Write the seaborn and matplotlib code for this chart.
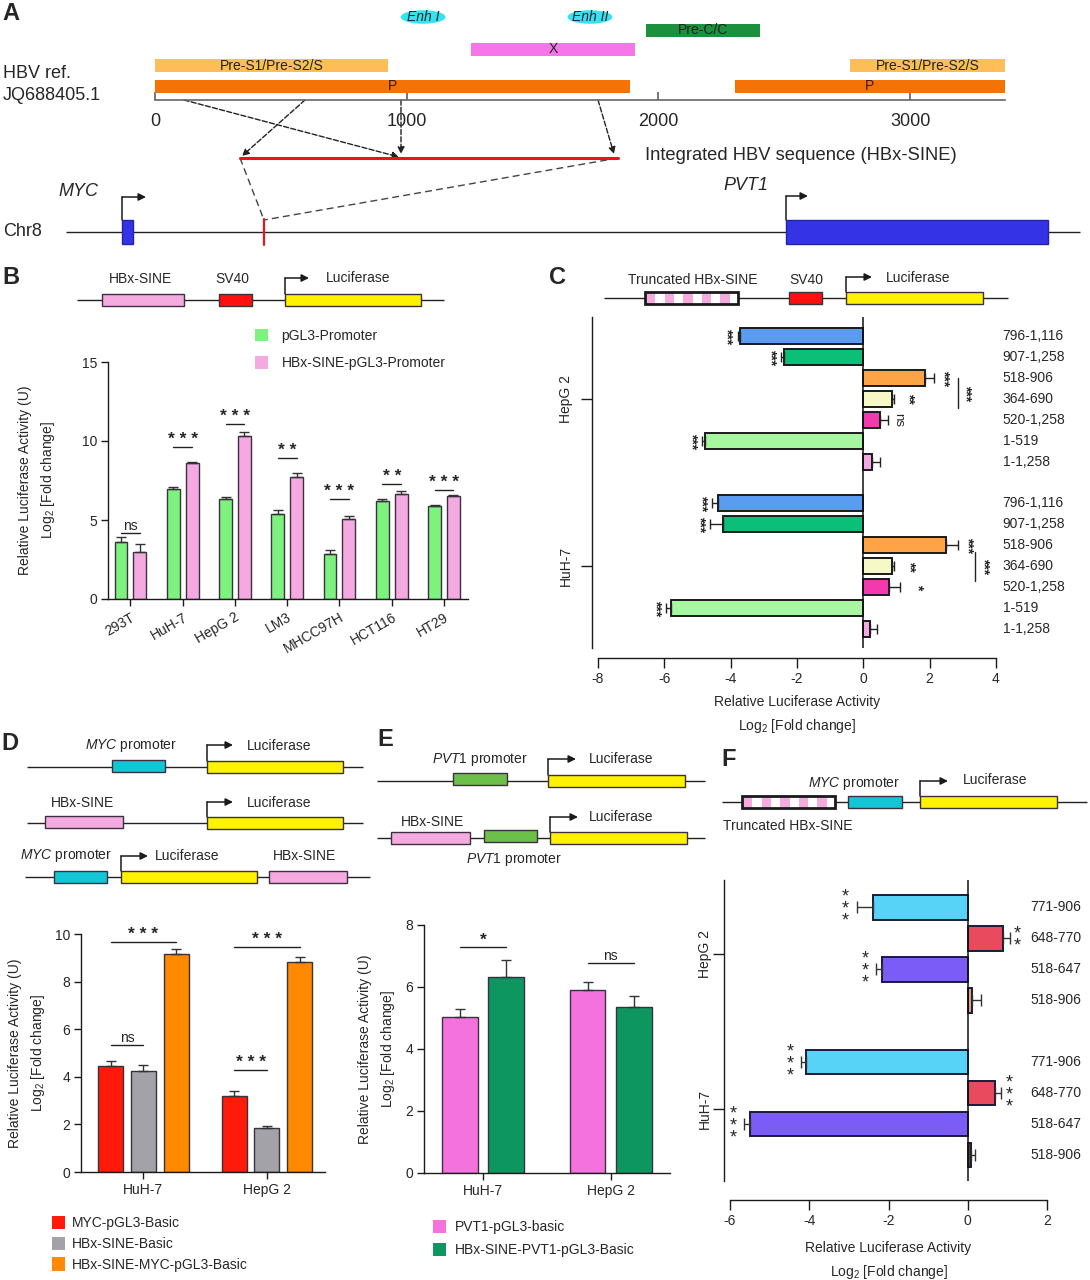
import numpy as np
import pandas as pd
import matplotlib
matplotlib.use("Agg")
import matplotlib.pyplot as plt
import seaborn as sns
from matplotlib.patches import Rectangle, Ellipse, Patch
from matplotlib.container import BarContainer

# ---------------------------------------------------------------- data
# Panel A: HBV genome annotation (bp on JQ688405.1)
a_feat_names = ["Pre-S1/Pre-S2/S", "Pre-S1/Pre-S2/S", "P", "P", "X", "Pre-C/C"]
a_feat_start = [0, 2760, 0, 2304, 1255, 1950]
a_feat_end = [925, 3377, 1887, 3377, 1907, 2404]
a_enh_names = ["Enh I", "Enh II"]
a_enh_pos = [1065, 1728]
a_ticks = [0, 1000, 2000, 3000]

# Panel B
b_cells = ["293T", "HuH-7", "HepG 2", "LM3", "MHCC97H", "HCT116", "HT29"]
b_groups = ["pGL3-Promoter", "HBx-SINE-pGL3-Promoter"]
b_ctrl = [3.6, 6.95, 6.3, 5.4, 2.85, 6.18, 5.88]
b_ctrl_err = [0.33, 0.15, 0.14, 0.26, 0.25, 0.15, 0.1]
b_sine = [3.0, 8.62, 10.3, 7.72, 5.04, 6.62, 6.53]
b_sine_err = [0.46, 0.05, 0.26, 0.28, 0.22, 0.22, 0.06]
b_sig = ["ns", "***", "***", "**", "***", "**", "***"]
b_sig_y = [4.2, 9.6, 11.05, 8.9, 6.3, 7.3, 6.9]

# Panel C
c_fragments = ["796-1,116", "907-1,258", "518-906", "364-690", "520-1,258", "1-519", "1-1,258"]
c_hepg2 = [-3.71, -2.40, 1.87, 0.87, 0.50, -4.78, 0.25]
c_hepg2_err = [0.08, 0.08, 0.25, 0.05, 0.24, 0.09, 0.24]
c_huh7 = [-4.37, -4.22, 2.48, 0.85, 0.76, -5.80, 0.21]
c_huh7_err = [0.18, 0.39, 0.36, 0.08, 0.34, 0.15, 0.19]
c_hepg2_sig = ["***", "***", "***", "**", "ns", "***", ""]
c_huh7_sig = ["***", "***", "***", "**", "*", "***", ""]

# Panel D
d_cells = ["HuH-7", "HepG 2"]
d_groups = ["MYC-pGL3-Basic", "HBx-SINE-Basic", "HBx-SINE-MYC-pGL3-Basic"]
d_myc = [4.45, 3.2]
d_myc_err = [0.2, 0.2]
d_sine = [4.23, 1.84]
d_sine_err = [0.25, 0.11]
d_combo = [9.15, 8.82]
d_combo_err = [0.22, 0.21]

# Panel E
e_cells = ["HuH-7", "HepG 2"]
e_groups = ["PVT1-pGL3-basic", "HBx-SINE-PVT1-pGL3-Basic"]
e_pvt1 = [5.02, 5.89]
e_pvt1_err = [0.28, 0.28]
e_sine = [6.33, 5.37]
e_sine_err = [0.55, 0.35]
e_sig = ["*", "ns"]
e_sig_y = [7.28, 6.76]

# Panel F
f_fragments = ["771-906", "648-770", "518-647", "518-906"]
f_hepg2 = [-2.40, 0.89, -2.17, 0.11]
f_hepg2_err = [0.40, 0.17, 0.14, 0.23]
f_huh7 = [-4.09, 0.68, -5.49, 0.07]
f_huh7_err = [0.11, 0.16, 0.15, 0.12]
f_hepg2_sig = ["***", "**", "***", ""]
f_huh7_sig = ["***", "***", "***", ""]

# ---------------------------------------------------------------- style
sns.set_theme(style="ticks")
plt.rcParams["font.family"] = ["Liberation Sans", "DejaVu Sans"]
plt.rcParams["mathtext.fontset"] = "custom"
plt.rcParams["mathtext.rm"] = "Liberation Sans"
plt.rcParams["mathtext.it"] = "Liberation Sans:italic"
plt.rcParams["axes.linewidth"] = 1.0
plt.rcParams["axes.unicode_minus"] = False
FS = 10
EDGE = "#3a3040"
PINK = "#F5AAE0"
YELLOW = "#FFF200"
CYAN = "#12C6D6"
PGREEN = "#6CC04A"

W, H = 1090, 1280
fig = plt.figure(figsize=(W / 100, H / 100), dpi=100)


def add_ax(x0, y0, x1, y1):
    return fig.add_axes([x0 / W, 1 - y1 / H, (x1 - x0) / W, (y1 - y0) / H])


ov = add_ax(0, 0, W, H)
ov.set_xlim(0, W)
ov.set_ylim(H, 0)
ov.axis("off")


def box(ax, x0, x1, yc, h, fc, ec=EDGE, lw=1.0, z=3):
    ax.add_patch(Rectangle((x0, yc - h / 2), x1 - x0, h, facecolor=fc,
                           edgecolor=ec, lw=lw, zorder=z, clip_on=False))


def hline(x0, x1, y, color="#222", lw=1.0):
    ov.plot([x0, x1], [y, y], color=color, lw=lw, zorder=2, solid_capstyle="butt")


def tss(x, ybot, ytop, length):
    ov.plot([x, x], [ybot, ytop], color="k", lw=1.1, zorder=4)
    ov.annotate("", xy=(x + length, ytop), xytext=(x, ytop),
                arrowprops=dict(arrowstyle="-|>", color="k", lw=1.1, shrinkA=0,
                                shrinkB=0, mutation_scale=11))


def striped(x0, x1, yc, h, n=5):
    box(ov, x0, x1, yc, h, "white", ec="none")
    per = (x1 - x0) / n
    for i in range(n):
        ov.add_patch(Rectangle((x0 + i * per + 1, yc - h / 2), per * 0.5, h,
                               fc=PINK, ec="none", zorder=3))
    ov.add_patch(Rectangle((x0, yc - h / 2), x1 - x0, h, fill=False, ec="#1a1a1a",
                           lw=2.0, zorder=4))


def txt(x, y, s, size=FS, **kw):
    kw.setdefault("ha", "center")
    kw.setdefault("va", "center")
    ov.text(x, y, s, fontsize=size, **kw)


def letter(x, y, s):
    ov.text(x, y, s, fontsize=17, fontweight="bold", ha="left", va="center")


def style_bar_axes(ax):
    sns.despine(ax=ax)
    ax.set_facecolor("none")
    ax.tick_params(axis="both", labelsize=FS, length=5, width=1, color="k", pad=3)
    for s in ["left", "bottom"]:
        ax.spines[s].set_color("k")


def bar_conts(ax):
    return [c for c in ax.containers if isinstance(c, BarContainer)]


def up_errors(ax, errs_by_level):
    for cont, errs in zip(bar_conts(ax), errs_by_level):
        for bar, e in zip(cont, errs):
            x = bar.get_x() + bar.get_width() / 2
            h = bar.get_height()
            ax.errorbar(x, h, yerr=[[0], [e]], fmt="none", ecolor="#333",
                        elinewidth=1, capsize=3.5, capthick=1, zorder=5)


def bar_centers(ax):
    out = []
    for cont in bar_conts(ax):
        out.append([b.get_x() + b.get_width() / 2 for b in cont])
    return out


def sig_mark(ax, x1, x2, y, s):
    ax.plot([x1, x2], [y, y], color="#222", lw=1)
    if s == "ns":
        ax.text((x1 + x2) / 2, y, "ns", ha="center", va="bottom", fontsize=FS)
    else:
        ax.text((x1 + x2) / 2, y, " ".join(list(s)), ha="center", va="bottom",
                fontsize=12.5, fontweight="bold")


# ---------------------------------------------------------------- Panel A
letter(2, 13, "A")
txt(3, 73, "HBV ref.", size=13, ha="left")
txt(3, 96, "JQ688405.1", size=13, ha="left")

axA = add_ax(155, 0, 1005, 100)
axA.set_xlim(0, 3377)
axA.set_ylim(100, 0)
axA.set_facecolor("none")
for s in ["top", "left", "right"]:
    axA.spines[s].set_visible(False)
axA.spines["bottom"].set_color("#666")
axA.spines["bottom"].set_linewidth(1.2)
axA.set_yticks([])
axA.set_xticks(a_ticks)
axA.set_xticklabels([str(t) for t in a_ticks], fontsize=13)
axA.tick_params(axis="x", direction="in", length=6, color="#666", pad=9)
feat_style = {"Pre-S1/Pre-S2/S": ("#FDBE57", 65.5), "P": ("#F57207", 86),
              "X": ("#F676EA", 49), "Pre-C/C": ("#1C903C", 30.5)}
for name, s0, s1 in zip(a_feat_names, a_feat_start, a_feat_end):
    col, yc = feat_style[name]
    axA.add_patch(Rectangle((s0, yc - 6.5), s1 - s0, 13, fc=col, ec="none",
                            clip_on=False, zorder=2))
    axA.text((s0 + s1) / 2, yc, name, ha="center", va="center", fontsize=10,
             color="#222" if name != "P" else "#3a1a00")
for name, pos in zip(a_enh_names, a_enh_pos):
    axA.add_patch(Ellipse((pos, 17), 178, 13.5, fc="#33E3F2", ec="none",
                          clip_on=False, zorder=2))
    axA.text(pos, 17, name, ha="center", va="center", fontsize=10, style="italic")

# integration schematic
dash = dict(color="#444", lw=1.0, ls=(0, (5, 3)))
arrowkw = dict(arrowstyle="-|>", color="#222", lw=1.0, ls="--",
               shrinkA=0, shrinkB=0, mutation_scale=10)
for (xs, ys, xe, ye) in [(184, 100, 399, 157), (305, 100, 242, 156),
                         (401, 100, 401, 154), (598, 100, 614, 154)]:
    ov.annotate("", xy=(xe, ye), xytext=(xs, ys), arrowprops=arrowkw)
ov.plot([240, 618], [158, 158], color="#E8141C", lw=2.2, zorder=3)
txt(645, 155, "Integrated HBV sequence (HBx-SINE)", size=13.2, ha="left")
ov.plot([240, 264], [158, 220], **dash)
ov.plot([618, 264], [158, 220], **dash)
hline(66, 1080, 232)
txt(3, 232, "Chr8", size=13, ha="left")
ov.plot([264, 264], [219, 245], color="#E8141C", lw=1.6, zorder=3)
box(ov, 122, 133, 232, 24, "#3434E6", ec="#2222AA")
box(ov, 786, 1048, 232, 24, "#3434E6", ec="#2222AA")
tss(122, 220, 197, 24)
tss(786, 220, 196, 22)
txt(78, 191, "MYC", size=13, style="italic")
txt(746, 186, "PVT1", size=13, style="italic")

# ---------------------------------------------------------------- Panel B
letter(2, 277, "B")
hline(77, 444, 300)
box(ov, 102, 184, 300, 12, PINK)
box(ov, 219, 252, 300, 12, "#FF1010")
box(ov, 285, 421, 300, 12, YELLOW)
tss(285, 294, 278, 24)
txt(140, 279, "HBx-SINE")
txt(232, 279, "SV40")
txt(358, 278, "Luciferase")

dfB = pd.DataFrame({
    "cell": b_cells * 2,
    "group": [b_groups[0]] * len(b_cells) + [b_groups[1]] * len(b_cells),
    "value": b_ctrl + b_sine,
})
b_pal = {b_groups[0]: "#7EF27E", b_groups[1]: "#F5A9E1"}
axB = add_ax(108, 362, 468, 599)
sns.barplot(data=dfB, x="cell", y="value", hue="group", order=b_cells,
            hue_order=b_groups, palette=b_pal, width=0.72, gap=0.32,
            errorbar=None, edgecolor=EDGE, linewidth=1, saturation=1,
            legend=False, ax=axB)
cB = bar_centers(axB)
up_errors(axB, [b_ctrl_err, b_sine_err])
for i in range(len(b_cells)):
    sig_mark(axB, cB[0][i], cB[1][i], b_sig_y[i], b_sig[i])
axB.set_ylim(0, 15)
axB.set_yticks([0, 5, 10, 15])
axB.set_xlim(-0.43, 6.46)
axB.set_xlabel("")
axB.set_ylabel("Relative Luciferase Activity (U)\nLog$_2$ [Fold change]",
               fontsize=FS, linespacing=1.5)
axB.yaxis.set_label_coords(-0.142, 0.5)
style_bar_axes(axB)
plt.setp(axB.get_xticklabels(), rotation=30, ha="right", rotation_mode="anchor")
axB.legend(handles=[Patch(fc=b_pal[g], ec="none") for g in b_groups],
           labels=b_groups, loc="upper left", bbox_to_anchor=(255 / W, 1 - 329 / H),
           bbox_transform=fig.transFigure, frameon=False, fontsize=FS,
           handlelength=0.95, handleheight=1.0, handletextpad=0.95, labelspacing=0.95,
           borderaxespad=0, borderpad=0)

# ---------------------------------------------------------------- Panel C
letter(549, 278, "C")
hline(604, 1008, 298)
striped(645, 738, 298, 12)
box(ov, 789, 822, 298, 12, "#FF1010")
box(ov, 846, 983, 298, 12, YELLOW)
tss(846, 292, 277, 26)
txt(693, 280, "Truncated HBx-SINE")
txt(806, 280, "SV40")
txt(918, 278, "Luciferase")

c_colors = ["#5B9CF2", "#0BBF78", "#FFA347", "#F6F9C6", "#F23AAE", "#A7F6A0", "#F2A9E2"]
c_rows = (["HepG 2|" + f for f in c_fragments] + ["gap"] +
          ["HuH-7|" + f for f in c_fragments])
dfC = pd.DataFrame({
    "row": ["HepG 2|" + f for f in c_fragments] + ["HuH-7|" + f for f in c_fragments],
    "value": c_hepg2 + c_huh7,
})
c_pal = {}
for i, f in enumerate(c_fragments):
    c_pal["HepG 2|" + f] = c_colors[i]
    c_pal["HuH-7|" + f] = c_colors[i]
axC = add_ax(598, 317, 996, 648)
sns.barplot(data=dfC, x="value", y="row", hue="row", order=c_rows,
            hue_order=list(dfC["row"]), palette=c_pal, orient="h", width=0.76,
            dodge=False, errorbar=None, edgecolor="#1a1a1a", linewidth=1.4,
            saturation=1, legend=False, ax=axC)
c_err = dict(zip(dfC["row"], c_hepg2_err + c_huh7_err))
c_sig = dict(zip(dfC["row"], c_hepg2_sig + c_huh7_sig))
c_val = dict(zip(dfC["row"], c_hepg2 + c_huh7))
for p in list(axC.patches):
    if not np.isfinite(p.get_width()) or p.get_width() == 0:
        continue
    yc = p.get_y() + p.get_height() / 2
    key = c_rows[int(round(yc))]
    v, e = c_val[key], c_err[key]
    xe = [[e], [0]] if v < 0 else [[0], [e]]
    axC.errorbar(v, yc, xerr=xe, fmt="none", ecolor="#222", elinewidth=1,
                 capsize=3.5, capthick=1, zorder=5)
    s = c_sig[key]
    if s:
        xs = v - e - 0.32 if v < 0 else v + e + 0.3
        if key == "HuH-7|520-1,258":
            xs = 1.62
        if key.endswith("364-690"):
            xs = v + e + 0.45
        axC.text(xs, yc, s, rotation=-90, ha="center", va="center",
                 fontsize=10 if s != "ns" else 9.5,
                 fontweight="bold" if s != "ns" else "normal")
    axC.text(4.2, yc, key.split("|")[1], ha="left", va="center", fontsize=FS,
             clip_on=False)
# brackets between 518-906 and 364-690
for (xb, y0, y1, xt) in [(2.84, 2.0, 3.45, 3.07), (3.36, 10.3, 11.7, 3.62)]:
    axC.plot([xb, xb], [y0, y1], color="#222", lw=1)
    axC.text(xt, (y0 + y1) / 2, "***", rotation=-90, ha="center", va="center",
             fontsize=10, fontweight="bold")
axC.axvline(0, color="#111", lw=1.1, zorder=4)
axC.set_xlim(-8, 4)
axC.set_ylim(14.91, -0.91)
axC.set_xticks(range(-8, 5, 2))
axC.set_yticks([3, 11])
axC.set_yticklabels(["HepG 2", "HuH-7"])
axC.set_ylabel("")
axC.set_xlabel("Relative Luciferase Activity\nLog$_2$ [Fold change]", fontsize=FS,
               linespacing=1.6, labelpad=7)
style_bar_axes(axC)
axC.spines["left"].set_position(("outward", 4))
axC.spines["bottom"].set_position(("outward", 7))
axC.tick_params(axis="x", length=7)
axC.tick_params(axis="y", length=8, pad=6, labelrotation=90)
plt.setp(axC.get_yticklabels(), va="center")

# ---------------------------------------------------------------- Panel D
letter(1, 743, "D")
# row 1
hline(27, 363, 767)
box(ov, 112, 165, 766, 12, CYAN)
box(ov, 207, 343, 767, 12, YELLOW)
tss(207, 761, 745, 26)
txt(131, 746, r"$\mathit{MYC}$ promoter")
txt(279, 746, "Luciferase")
# row 2
hline(27, 363, 823)
box(ov, 45, 123, 822, 12, PINK)
box(ov, 207, 343, 823, 12, YELLOW)
tss(207, 817, 802, 26)
txt(83, 803, "HBx-SINE")
txt(279, 803, "Luciferase")
# row 3
hline(25, 370, 877)
box(ov, 54, 107, 877, 12, CYAN)
box(ov, 121, 257, 877, 12, YELLOW)
box(ov, 269, 347, 877, 12, PINK)
tss(121, 871, 856, 27)
txt(66, 856, r"$\mathit{MYC}$ promoter")
txt(187, 856, "Luciferase")
txt(304, 856, "HBx-SINE")

dfD = pd.DataFrame({
    "cell": d_cells * 3,
    "group": sum([[g] * 2 for g in d_groups], []),
    "value": d_myc + d_sine + d_combo,
})
d_pal = dict(zip(d_groups, ["#FF1A0A", "#A2A2A8", "#FF8A00"]))
axD = add_ax(81, 934, 325, 1172)
sns.barplot(data=dfD, x="cell", y="value", hue="group", order=d_cells,
            hue_order=d_groups, palette=d_pal, width=0.795, gap=0.235,
            errorbar=None, edgecolor=EDGE, linewidth=1, saturation=1,
            legend=False, ax=axD)
cD = bar_centers(axD)
up_errors(axD, [d_myc_err, d_sine_err, d_combo_err])
sig_mark(axD, cD[0][0], cD[1][0], 5.35, "ns")
sig_mark(axD, cD[0][0], cD[2][0], 9.67, "***")
sig_mark(axD, cD[0][1], cD[2][1], 9.46, "***")
sig_mark(axD, cD[0][1], cD[1][1], 4.27, "***")
axD.set_ylim(0, 10)
axD.set_yticks(range(0, 11, 2))
axD.set_xlim(-0.505, 1.47)
axD.set_xlabel("")
axD.set_ylabel("Relative Luciferase Activity (U)\nLog$_2$ [Fold change]",
               fontsize=FS, linespacing=1.5)
axD.yaxis.set_label_coords(-0.14, 0.5)
style_bar_axes(axD)
axD.legend(handles=[Patch(fc=d_pal[g], ec="none") for g in d_groups],
           labels=d_groups, loc="upper left", bbox_to_anchor=(52 / W, 1 - 1216 / H),
           bbox_transform=fig.transFigure, frameon=False, fontsize=FS,
           handlelength=0.95, handleheight=1.1, handletextpad=0.5, labelspacing=0.45,
           borderaxespad=0, borderpad=0)

# ---------------------------------------------------------------- Panel E
letter(377, 739, "E")
hline(377, 705, 781)
box(ov, 453, 507, 779, 12, PGREEN)
box(ov, 548, 685, 781, 12, YELLOW)
tss(548, 775, 759, 28)
txt(480, 760, r"$\mathit{PVT1}$ promoter")
txt(621, 759, "Luciferase")
hline(377, 705, 838)
box(ov, 391, 470, 838, 12, PINK)
box(ov, 484, 537, 836, 12, PGREEN)
box(ov, 550, 687, 838, 12, YELLOW)
tss(550, 832, 817, 28)
txt(432, 822, "HBx-SINE")
txt(621, 817, "Luciferase")
txt(514, 859, r"$\mathit{PVT1}$ promoter")

dfE = pd.DataFrame({
    "cell": e_cells * 2,
    "group": [e_groups[0]] * 2 + [e_groups[1]] * 2,
    "value": e_pvt1 + e_sine,
})
e_pal = dict(zip(e_groups, ["#F472DE", "#0E9660"]))
axE = add_ax(424, 925, 670, 1173)
sns.barplot(data=dfE, x="cell", y="value", hue="group", order=e_cells,
            hue_order=e_groups, palette=e_pal, width=0.725, gap=0.233,
            errorbar=None, edgecolor=EDGE, linewidth=1, saturation=1,
            legend=False, ax=axE)
cE = bar_centers(axE)
up_errors(axE, [e_pvt1_err, e_sine_err])
for i in range(2):
    sig_mark(axE, cE[0][i], cE[1][i], e_sig_y[i], e_sig[i])
axE.set_ylim(0, 8)
axE.set_yticks(range(0, 9, 2))
axE.set_xlim(-0.463, 1.465)
axE.set_xlabel("")
axE.set_ylabel("Relative Luciferase Activity (U)\nLog$_2$ [Fold change]",
               fontsize=FS, linespacing=1.5)
axE.yaxis.set_label_coords(-0.11, 0.5)
style_bar_axes(axE)
axE.legend(handles=[Patch(fc=e_pal[g], ec="none") for g in e_groups],
           labels=e_groups, loc="upper left", bbox_to_anchor=(433 / W, 1 - 1220 / H),
           bbox_transform=fig.transFigure, frameon=False, fontsize=FS,
           handlelength=0.95, handleheight=1.1, handletextpad=0.6, labelspacing=0.6,
           borderaxespad=0, borderpad=0)

# ---------------------------------------------------------------- Panel F
letter(721, 759, "F")
hline(722, 1087, 802)
striped(742, 835, 802, 12)
box(ov, 848, 902, 802, 12, CYAN)
box(ov, 920, 1057, 802, 12, YELLOW)
tss(920, 796, 781, 28)
txt(854, 783, r"$\mathit{MYC}$ promoter")
txt(995, 780, "Luciferase")
txt(788, 826, "Truncated HBx-SINE")

f_colors_hep = ["#56D3F7", "#EA4A5D", "#7C5CF6", "#E5A274"]
f_colors_huh = ["#56D3F7", "#EA4A5D", "#7C5CF6", "#5B4526"]
f_rows = (["HepG 2|" + f for f in f_fragments] + ["gap"] +
          ["HuH-7|" + f for f in f_fragments])
dfF = pd.DataFrame({
    "row": ["HepG 2|" + f for f in f_fragments] + ["HuH-7|" + f for f in f_fragments],
    "value": f_hepg2 + f_huh7,
})
f_pal = {}
for i, f in enumerate(f_fragments):
    f_pal["HepG 2|" + f] = f_colors_hep[i]
    f_pal["HuH-7|" + f] = f_colors_huh[i]
axF = add_ax(730, 880, 1047, 1181)
sns.barplot(data=dfF, x="value", y="row", hue="row", order=f_rows,
            hue_order=list(dfF["row"]), palette=f_pal, orient="h", width=0.8,
            dodge=False, errorbar=None, edgecolor="#1a1a3a", linewidth=1.4,
            saturation=1, legend=False, ax=axF)
f_err = dict(zip(dfF["row"], f_hepg2_err + f_huh7_err))
f_sig = dict(zip(dfF["row"], f_hepg2_sig + f_huh7_sig))
f_val = dict(zip(dfF["row"], f_hepg2 + f_huh7))
for p in list(axF.patches):
    if not np.isfinite(p.get_width()) or p.get_width() == 0:
        continue
    yc = p.get_y() + p.get_height() / 2
    key = f_rows[int(round(yc))]
    v, e = f_val[key], f_err[key]
    xe = [[e], [0]] if v < 0 else [[0], [e]]
    axF.errorbar(v, yc, xerr=xe, fmt="none", ecolor="#333", elinewidth=1,
                 capsize=4, capthick=1, zorder=5)
    s = f_sig[key]
    if s:
        xs = v - e - 0.28 if v < 0 else v + e + 0.2
        axF.text(xs, yc + 0.05, "\n".join(list(s)), ha="center", va="center",
                 fontsize=13, linespacing=0.62)
    axF.text(1.58, yc, key.split("|")[1], ha="left", va="center", fontsize=FS,
             clip_on=False)
axF.axvline(0, color="#111", lw=1.1, zorder=4)
axF.set_xlim(-6, 2)
axF.set_ylim(8.84, -0.88)
axF.set_xticks(range(-6, 3, 2))
axF.set_yticks([1.5, 6.5])
axF.set_yticklabels(["HepG 2", "HuH-7"])
axF.set_ylabel("")
axF.set_xlabel("Relative Luciferase Activity\nLog$_2$ [Fold change]", fontsize=FS,
               linespacing=1.6, labelpad=9)
style_bar_axes(axF)
axF.spines["left"].set_position(("outward", 4))
axF.spines["bottom"].set_position(("outward", 14))
axF.tick_params(axis="x", length=7)
axF.tick_params(axis="y", length=8, pad=1, labelrotation=90)
plt.setp(axF.get_yticklabels(), va="center")

fig.savefig("out.png", dpi=100, facecolor="white")
